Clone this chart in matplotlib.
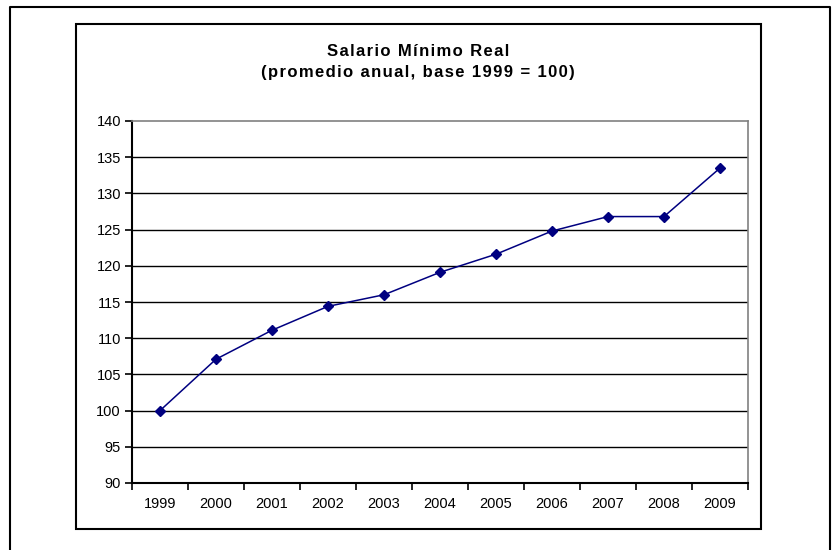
import matplotlib.pyplot as plt
from matplotlib.lines import Line2D
from matplotlib.patches import Rectangle

plt.rcParams['font.family'] = ['Liberation Sans', 'DejaVu Sans']

# Salario minimo real, indice 1999 = 100
years = ["1999", "2000", "2001", "2002", "2003", "2004",
         "2005", "2006", "2007", "2008", "2009"]
salario = [100.0, 107.1, 111.1, 114.4, 116.0, 119.1,
           121.6, 124.8, 126.8, 126.8, 133.5]
y_ticks = [90, 95, 100, 105, 110, 115, 120, 125, 130, 135, 140]
title_1 = "Salario Mínimo Real"
title_2 = "(promedio anual, base 1999 = 100)"

W, H = 835, 550
fig = plt.figure(figsize=(W / 100, H / 100), dpi=100)

# outer frame (bottom edge is cut off in the original)
fig.add_artist(Line2D([10 / W, 10 / W, 830 / W, 830 / W],
                      [0, 1 - 7 / H, 1 - 7 / H, 0],
                      color='black', lw=1.5, transform=fig.transFigure))

# chart box
fig.add_artist(Rectangle((76 / W, 1 - 529 / H), (761 - 76) / W, (529 - 24) / H,
                         fill=False, edgecolor='black', lw=1.5,
                         transform=fig.transFigure))

ax = fig.add_axes([132 / W, 1 - 483 / H, (748 - 132) / W, (483 - 121) / H])

x = list(range(len(years)))
ax.plot(x, salario, color='#000080', lw=1.1, marker='D', markersize=5,
        zorder=3)

ax.set_xlim(-0.5, len(years) - 0.5)
ax.set_ylim(90, 140)
ax.set_yticks(y_ticks)
ax.set_xticks(x)
ax.set_xticklabels(years)
ax.set_xticks([i - 0.5 for i in range(len(years) + 1)], minor=True)

for yv in y_ticks[1:-1]:
    ax.axhline(yv, color='black', lw=1, zorder=1)

ax.tick_params(axis='x', which='major', length=0, pad=10, labelsize=10.5)
ax.tick_params(axis='x', which='minor', length=5, width=1.2, direction='out')
ax.tick_params(axis='y', length=5, width=1.2, direction='out', pad=3,
               labelsize=10.5)

ax.spines['left'].set_linewidth(1.5)
ax.spines['bottom'].set_linewidth(1.5)
ax.spines['top'].set_color('#808080')
ax.spines['right'].set_color('#808080')
ax.spines['top'].set_linewidth(1.2)
ax.spines['right'].set_linewidth(1.2)


# the original title has wide letter spacing
def spaced(s):
    return "\u200a".join(s)


fig.text(418 / W, 1 - 51 / H, spaced(title_1), ha='center', va='center',
         fontsize=12, fontweight='bold')
fig.text(418 / W, 1 - 73 / H, spaced(title_2), ha='center', va='center',
         fontsize=12, fontweight='bold')

fig.savefig('out.png', dpi=100)
